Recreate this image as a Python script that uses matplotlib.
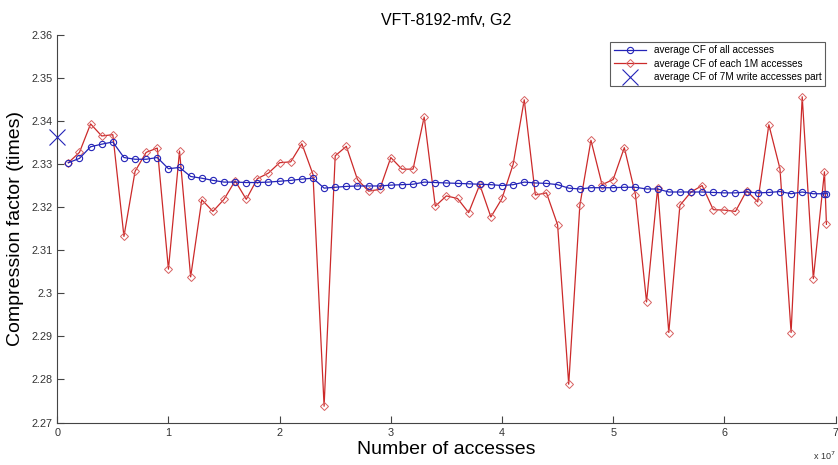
import matplotlib
matplotlib.use("Agg")
import matplotlib.pyplot as plt
from matplotlib.ticker import FuncFormatter
import numpy as np

plt.rcParams["font.family"] = ["Liberation Sans", "DejaVu Sans"]

# chunk index in millions of accesses (last chunk is partial)
chunk_m = list(range(1, 70)) + [69.18]

cf_each_1m = [
    2.3303, 2.3327, 2.3393, 2.3365, 2.3368, 2.3132, 2.3283, 2.3327, 2.3337, 2.3056,
    2.3330, 2.3038, 2.3217, 2.3190, 2.3218, 2.3261, 2.3218, 2.3266, 2.3279, 2.3303,
    2.3305, 2.3347, 2.3276, 2.2738, 2.3319, 2.3341, 2.3264, 2.3237, 2.3241, 2.3315,
    2.3288, 2.3288, 2.3409, 2.3202, 2.3226, 2.3220, 2.3187, 2.3252, 2.3177, 2.3220,
    2.3299, 2.3449, 2.3228, 2.3233, 2.3159, 2.2789, 2.3204, 2.3355, 2.3252, 2.3264,
    2.3338, 2.3229, 2.2980, 2.3245, 2.2909, 2.3204, 2.3235, 2.3250, 2.3194, 2.3193,
    2.3190, 2.3238, 2.3212, 2.3391, 2.3289, 2.2909, 2.3456, 2.3034, 2.3282, 2.3160,
]

cf_all = [
    2.3303, 2.3313, 2.3340, 2.3346, 2.3351, 2.3315, 2.3311, 2.3311, 2.3315, 2.3289,
    2.3292, 2.3271, 2.3267, 2.3262, 2.3258, 2.3258, 2.3257, 2.3257, 2.3258, 2.3260,
    2.3262, 2.3265, 2.3267, 2.3244, 2.3246, 2.3248, 2.3249, 2.3249, 2.3249, 2.3251,
    2.3252, 2.3253, 2.3258, 2.3257, 2.3256, 2.3255, 2.3254, 2.3253, 2.3252, 2.3250,
    2.3252, 2.3258, 2.3256, 2.3255, 2.3252, 2.3244, 2.3242, 2.3245, 2.3245, 2.3245,
    2.3246, 2.3246, 2.3242, 2.3242, 2.3235, 2.3235, 2.3235, 2.3235, 2.3234, 2.3233,
    2.3233, 2.3235, 2.3233, 2.3234, 2.3236, 2.3231, 2.3235, 2.3231, 2.3231, 2.3231,
]

write_part_x = [0]
write_part_cf = [2.3362]

BLUE = "#2424b8"
RED = "#cc2a2a"

x = np.array(chunk_m) * 1e6

fig = plt.figure(figsize=(8.38, 4.65), dpi=100)
ax = fig.add_axes([0.0683, 0.0912, 0.9288, 0.8342])

ax.plot(x, cf_all, color=BLUE, lw=0.9, marker="o", ms=4.5, mfc="none", mew=0.8,
        label="average CF of all accesses", zorder=3)
ax.plot(x, cf_each_1m, color=RED, lw=0.9, marker="D", ms=4, mfc="none", mew=0.7,
        mec="#d86060", label="average CF of each 1M accesses", zorder=2)
ax.plot(write_part_x, write_part_cf, color=BLUE, ls="none", marker="x", ms=11, mew=0.8,
        label="average CF of 7M write accesses part", zorder=4, clip_on=False)

ax.set_xlim(0, 7e7)
ax.set_ylim(2.27, 2.36)
ax.set_xticks(np.arange(0, 8) * 1e7)
ax.set_xticklabels([str(i) for i in range(8)])
ax.set_yticks(np.arange(2.27, 2.3601, 0.01))
ax.yaxis.set_major_formatter(FuncFormatter(lambda v, p: f"{v:g}"))
ax.tick_params(direction="in", length=5, width=0.8, labelsize=7.8,
               colors="#444444", labelcolor="#333333")
ax.tick_params(axis="x", pad=4)
ax.spines["top"].set_visible(False)
ax.spines["right"].set_visible(False)
for s in ("left", "bottom"):
    ax.spines[s].set_color("#444444")
    ax.spines[s].set_linewidth(0.8)

ax.set_title("VFT-8192-mfv, G2", fontsize=11.5, pad=7)
ax.set_xlabel("Number of accesses", fontsize=14, labelpad=2)
ax.set_ylabel("Compression factor (times)", fontsize=14, labelpad=5)
ax.text(1.0, -0.085, r"x 10$^{7}$", transform=ax.transAxes, fontsize=6.5,
        ha="right", va="center", color="#333333")

leg = ax.legend(loc="upper right", fontsize=7.2, frameon=True, fancybox=False,
                borderpad=0.35, labelspacing=0.35, handlelength=3.2,
                bbox_to_anchor=(0.993, 0.995))
leg.get_frame().set_edgecolor("#333333")
leg.get_frame().set_linewidth(0.8)

fig.savefig("out.png", dpi=100)
